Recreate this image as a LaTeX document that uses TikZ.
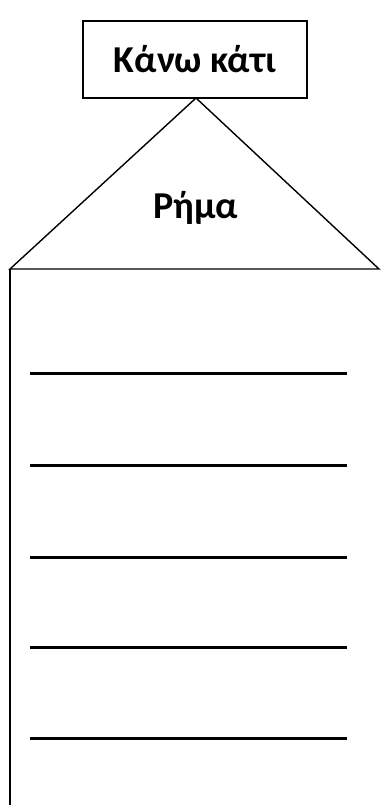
\documentclass[tikz,border=0pt]{standalone}
\usepackage{fontspec}
\setmainfont{Carlito}
\begin{document}
\begin{tikzpicture}[x=1pt,y=-1pt,
  lbl/.style={font=\fontsize{38}{42}\selectfont\bfseries, inner sep=0pt},
  boxst/.style={draw, line width=2pt, minimum width=224pt, minimum height=77pt, inner sep=0pt, font=\fontsize{38}{42}\selectfont\bfseries},
  edge/.style={line width=1.4pt},
  wline/.style={line width=3pt}]
\useasboundingbox (0,0) rectangle (380,805);
\node[boxst] (top) at (195,59.5) {Κάνω κάτι};
\coordinate (apex) at (196,98);
\coordinate (bl) at (10,269);
\coordinate (br) at (379,269);
\coordinate (bot) at (10,806);
\draw[edge] (bl) -- (apex) -- (br) -- cycle;
\node[lbl] (verb) at (196,208) {Ρήμα};
\draw[line width=2.6pt] (bl) -- (bot);
\foreach \i/\y in {1/373,2/465,3/557,4/647,5/738}{
  \coordinate (l\i a) at (30,\y);
  \coordinate (l\i b) at (347,\y);
  \draw[wline] (l\i a) -- (l\i b);
}
\end{tikzpicture}
\end{document}
